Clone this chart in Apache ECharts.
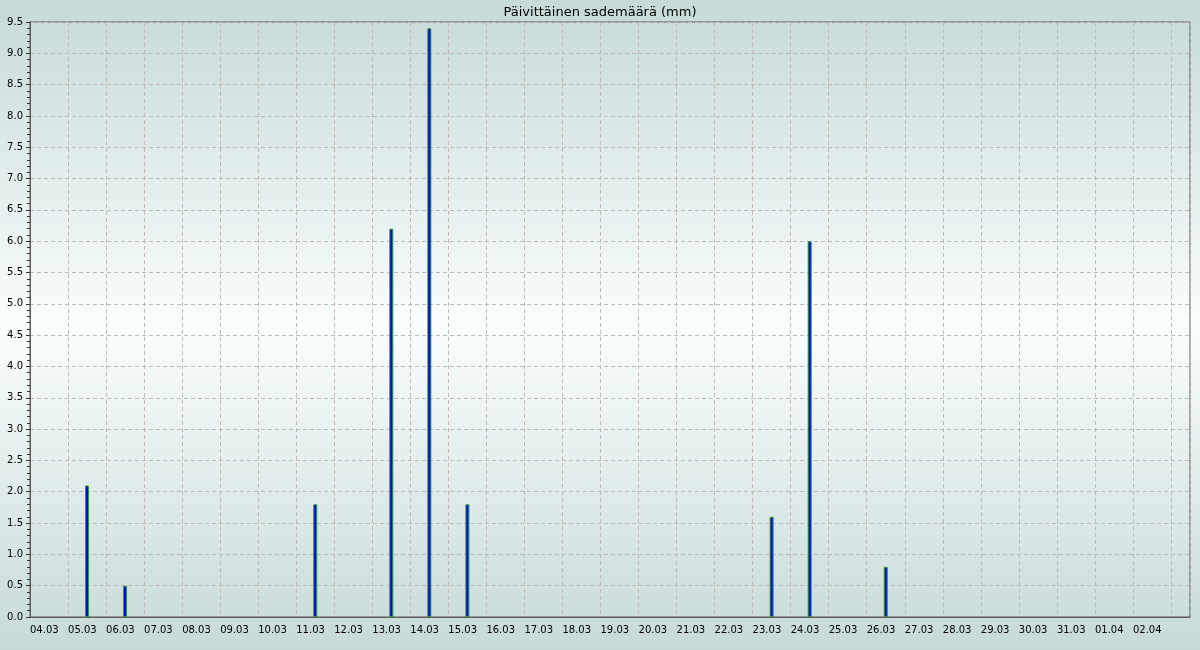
<!DOCTYPE html>
<html>
<head>
<meta charset="utf-8">
<script src="https://cdn.jsdelivr.net/npm/echarts@6/dist/echarts.min.js"></script>
<style>
html,body{margin:0;padding:0;}
#chart{width:1200px;height:650px;}
</style>
</head>
<body>
<div id="chart"></div>
<script>
var titleText = 'Päivittäinen sademäärä (mm)';
var dateLabels = ['04.03','05.03','06.03','07.03','08.03','09.03','10.03','11.03','12.03','13.03',
  '14.03','15.03','16.03','17.03','18.03','19.03','20.03','21.03','22.03','23.03',
  '24.03','25.03','26.03','27.03','28.03','29.03','30.03','31.03','01.04','02.04'];
var rainMm = [0, 2.1, 0.5, 0, 0, 0, 0, 1.8, 0, 6.2,
  9.4, 1.8, 0, 0, 0, 0, 0, 0, 0, 1.6,
  6.0, 0, 0.8, 0, 0, 0, 0, 0, 0, 0];
var yMin = 0, yMax = 9.5, yStep = 0.5;

var barData = [];
rainMm.forEach(function (v, i) {
  if (v > 0) barData.push([i + 0.5, v]);
});

var font = 'DejaVu Sans';
var chart = echarts.init(document.getElementById('chart'));
chart.setOption({
  animation: false,
  backgroundColor: {
    type: 'linear', x: 0, y: 0, x2: 0, y2: 1,
    colorStops: [
      {offset: 0, color: '#c6dad8'},
      {offset: 0.5, color: '#f9fdfd'},
      {offset: 1, color: '#c6dad8'}
    ]
  },
  title: {
    text: titleText,
    left: 'center',
    top: 1,
    textStyle: {fontFamily: font, fontSize: 13, fontWeight: 'normal', color: '#000'}
  },
  grid: {
    left: 30, right: 10, top: 22, bottom: 33,
    show: true, borderColor: '#5a5a5a', borderWidth: 1,
    backgroundColor: 'transparent'
  },
  xAxis: {
    type: 'value',
    min: 0,
    max: dateLabels.length + 0.5,
    interval: 1,
    axisLine: {show: true, lineStyle: {color: '#5a5a5a', width: 1}},
    axisTick: {show: false},
    axisLabel: {
      fontFamily: font, fontSize: 10, color: '#000',
      align: 'left', margin: 8,
      showMaxLabel: false,
      formatter: function (v) {
        var i = Math.round(v);
        return (i >= 0 && i < dateLabels.length) ? dateLabels[i] : '';
      }
    },
    splitLine: {show: true, lineStyle: {color: '#bfbaba', type: [4, 3], width: 1}}
  },
  yAxis: {
    type: 'value',
    min: yMin, max: yMax, interval: yStep,
    axisLine: {show: true, lineStyle: {color: '#5a5a5a', width: 1}},
    axisTick: {show: true, length: 4, lineStyle: {color: '#333'}},
    minorTick: {show: true, splitNumber: 5, length: 3, lineStyle: {color: '#333'}},
    axisLabel: {
      fontFamily: font, fontSize: 10, color: '#000', margin: 7,
      formatter: function (v) { return v.toFixed(1); }
    },
    splitLine: {show: true, lineStyle: {color: '#bfbaba', type: [4, 3], width: 1}}
  },
  series: [{
    type: 'bar',
    data: barData,
    barWidth: 4,
    itemStyle: {color: '#0000ff', borderColor: '#339933', borderWidth: 1}
  }]
});
</script>
</body>
</html>
